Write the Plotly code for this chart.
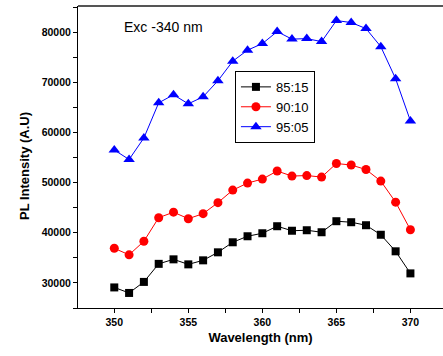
import plotly.graph_objects as go

wavelength = list(range(350, 371))
s85_15 = [29100, 28000, 30200, 33800, 34700, 33700, 34500, 36100, 38100, 39300, 39900,
          41300, 40400, 40500, 40100, 42300, 42100, 41500, 39600, 36300, 31900]
s90_10 = [36900, 35600, 38300, 43000, 44100, 42800, 43800, 46000, 48500, 49900, 50700,
          52300, 51300, 51400, 51100, 53800, 53500, 52600, 50300, 46100, 40600]
s95_05 = [56500, 54600, 58900, 65900, 67500, 65700, 67100, 70300, 74200, 76400, 77700,
          80100, 78600, 78700, 78100, 82300, 81900, 80700, 77100, 70700, 62300]

fig = go.Figure()
fig.add_trace(go.Scatter(x=wavelength, y=s85_15, name="85:15", mode="lines+markers",
                         line=dict(color="black", width=1),
                         marker=dict(symbol="square", size=8, color="black")))
fig.add_trace(go.Scatter(x=wavelength, y=s90_10, name="90:10", mode="lines+markers",
                         line=dict(color="red", width=1),
                         marker=dict(symbol="circle", size=9, color="red")))
fig.add_trace(go.Scatter(x=wavelength, y=s95_05, name="95:05", mode="lines+markers",
                         line=dict(color="blue", width=1),
                         marker=dict(symbol="triangle-up", size=10, color="blue")))

fig.update_layout(
    width=443, height=356,
    margin=dict(l=78, r=0, t=6, b=48),
    paper_bgcolor="white", plot_bgcolor="white",
    font=dict(family="Arial, Liberation Sans, sans-serif", color="black"),
    showlegend=True,
    legend=dict(x=0.43, y=0.785, xanchor="left", yanchor="top",
                bordercolor="black", borderwidth=1, bgcolor="white",
                font=dict(size=13), tracegroupgap=0, itemwidth=30),
    annotations=[
        dict(text="Exc -340 nm", x=(163 - 78) / 365, y=(308 - 27) / 302,
             xref="paper", yref="paper", xanchor="center", yanchor="middle",
             showarrow=False, font=dict(size=14)),
        dict(text="<b>PL Intensity (A.U)</b>", textangle=-90, showarrow=False,
             xref="paper", yref="paper", x=-0.148, y=0.47, xanchor="center", yanchor="middle",
             font=dict(size=13)),
    ],
)

fig.update_xaxes(range=[347.55, 372.2], showline=True, linecolor="black", linewidth=1,
                 mirror=False, showgrid=False, zeroline=False,
                 ticks="outside", ticklen=4, tickcolor="black", dtick=5, tick0=350,
                 tickfont=dict(size=10.5),
                 minor=dict(dtick=2.5, tick0=347.5, ticks="outside", ticklen=4, tickcolor="black"),
                 title=dict(text="<b>Wavelength (nm)</b>", font=dict(size=13), standoff=6))
fig.update_yaxes(range=[25000, 85200], showline=True, linecolor="black", linewidth=1,
                 showgrid=False, zeroline=False,
                 ticks="outside", ticklen=4, tickcolor="black", dtick=10000, tick0=30000,
                 tickfont=dict(size=10.5), tickformat="d",
                 minor=dict(dtick=5000, ticks="outside", ticklen=4, tickcolor="black"))
# top frame line
fig.add_shape(type="line", xref="paper", yref="paper", x0=0, x1=1, y0=1, y1=1,
              line=dict(color="#555555", width=2))
fig.update_layout(xaxis_tickprefix="<b>", xaxis_ticksuffix="</b>",
                  yaxis_tickprefix="<b>", yaxis_ticksuffix="</b>")

fig.write_html("out.html")
